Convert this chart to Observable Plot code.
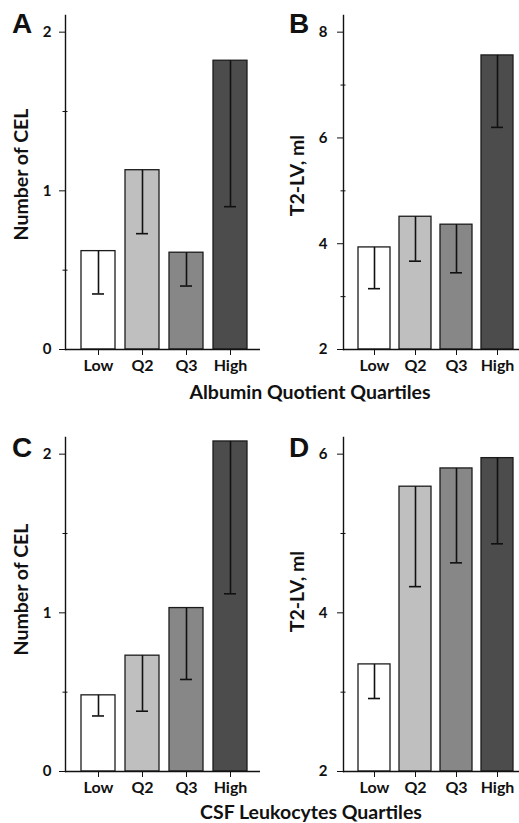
<!DOCTYPE html>
<html>
<head>
<meta charset="utf-8">
<script src="https://cdn.jsdelivr.net/npm/d3@7"></script>
<script src="https://cdn.jsdelivr.net/npm/@observablehq/plot@0.6"></script>
<style>
  html, body { margin: 0; padding: 0; background: #fff; }
  #root { position: relative; width: 519px; height: 823px; overflow: hidden; font-family: Lato, "Open Sans", sans-serif; color: #111; }
  .panel { position: absolute; }
  .letter { position: absolute; font-family: "Liberation Sans", Arial, sans-serif; font-weight: bold; font-size: 28px; line-height: 1; }
  .xtitle { position: absolute; font-family: Lato, sans-serif; font-weight: bold; font-size: 19.5px; line-height: 1; white-space: nowrap; transform: translateX(-50%); }
</style>
</head>
<body>
<div id="root"></div>
<script>
// ---- data ----
const categories = ["Low", "Q2", "Q3", "High"];
const barFills = ["#ffffff", "#bfbfbf", "#878787", "#4c4c4c"];

const celAlbumin = [0.62, 1.13, 0.61, 1.82];
const celAlbuminLower = [0.35, 0.73, 0.40, 0.90];
const t2Albumin = [3.93, 4.51, 4.36, 7.56];
const t2AlbuminLower = [3.15, 3.67, 3.45, 6.20];

const celCSF = [0.48, 0.73, 1.03, 2.08];
const celCSFLower = [0.35, 0.38, 0.58, 1.12];
const t2CSF = [3.35, 5.59, 5.82, 5.95];
const t2CSFLower = [2.92, 4.33, 4.63, 4.87];

const celTicks = [0, 1, 2];
const celMinorTicks = [0.5, 1.5];
const t2AlbuminTicks = [2, 4, 6, 8];
const t2AlbuminMinorTicks = [3, 5, 7];
const t2CSFTicks = [2, 4, 6];
const t2CSFMinorTicks = [3, 5];

const panelLetters = ["A", "B", "C", "D"];
const yTitles = ["Number of CEL", "T2-LV, ml", "Number of CEL", "T2-LV, ml"];
const xTitles = ["Albumin Quotient Quartiles", "CSF Leukocytes Quartiles"];

// ---- layout ----
const root = document.getElementById("root");

function makePanel(cfg) {
  const rows = categories.map((q, i) => ({q, v: cfg.values[i], lo: cfg.lowers[i]}));
  const base = cfg.domain[0];
  const chart = Plot.plot({
    width: cfg.width,
    height: cfg.height,
    marginLeft: cfg.mL,
    marginRight: cfg.mR,
    marginTop: cfg.mT,
    marginBottom: cfg.mB,
    style: {fontFamily: "Lato, 'Open Sans', sans-serif", fontWeight: "bold", fontSize: "15px", color: "#111", background: "transparent", overflow: "visible"},
    x: {domain: categories, paddingInner: cfg.pi, paddingOuter: cfg.po, align: cfg.align, axis: null},
    y: {domain: cfg.domain, axis: null},
    color: {domain: categories, range: barFills},
    marks: [
      Plot.barY(rows, {x: "q", y1: () => base, y2: "v", fill: "q", stroke: "#1c1c1c", strokeWidth: 1.3}),
      Plot.ruleX(rows, {x: "q", y1: "v", y2: "lo", stroke: "#111", strokeWidth: 1.6}),
      Plot.tickY(rows, {x: "q", y: "lo", stroke: "#111", strokeWidth: 1.6, insetLeft: cfg.capInset, insetRight: cfg.capInset}),
      Plot.ruleY([base], {stroke: "#111", strokeWidth: 1.4}),
      Plot.frame({anchor: "left", stroke: "#111", strokeWidth: 1.4}),
      Plot.axisX({tickSize: 6, tickPadding: 4, label: null, stroke: "#111", fontSize: 16}),
      Plot.axisY({ticks: cfg.ticks, tickSize: 6, tickPadding: cfg.tickPadding, tickFormat: d => String(d), label: null, stroke: "#111", fontSize: 15}),
      Plot.axisY({ticks: cfg.minor, tickSize: 5, dx: 2.5, tickFormat: () => "", label: null, stroke: "#111"}),
      Plot.text([cfg.ytitle], {text: d => d, frameAnchor: "left", textAnchor: "middle", dx: cfg.labelDx, dy: cfg.labelDy, rotate: -90, fontSize: 19.5, fontWeight: "bold", fill: "#111"})
    ]
  });
  const wrap = document.createElement("div");
  wrap.className = "panel";
  wrap.style.left = cfg.left + "px";
  wrap.style.top = cfg.top + "px";
  wrap.appendChild(chart);
  root.appendChild(wrap);
  return chart;
}

const leftCol = {left: 0, width: 260, mL: 65, mR: 0, pi: 0.236, po: 0.309, align: 0.545, capInset: 11, tickPadding: 8, labelDx: -44};
const rightCol = {left: 260, width: 259, mL: 83, mR: 0, pi: 0.227, po: 0.2355, align: 0.69, capInset: 10, tickPadding: 10, labelDx: -46};
const topRow = {top: 0, height: 380, mT: 15, mB: 31};
const bottomRow = {top: 420, height: 380, mT: 17, mB: 29};

makePanel({...leftCol, ...topRow, domain: [0, 2.105], ticks: celTicks, minor: celMinorTicks, values: celAlbumin, lowers: celAlbuminLower, ytitle: yTitles[0], labelDy: -8});
makePanel({...rightCol, ...topRow, domain: [2, 8.315], ticks: t2AlbuminTicks, minor: t2AlbuminMinorTicks, values: t2Albumin, lowers: t2AlbuminLower, ytitle: yTitles[1], labelDy: -7});
makePanel({...leftCol, ...bottomRow, domain: [0, 2.105], ticks: celTicks, minor: celMinorTicks, values: celCSF, lowers: celCSFLower, ytitle: yTitles[2], labelDy: -15});
makePanel({...rightCol, ...bottomRow, domain: [2, 6.21], ticks: t2CSFTicks, minor: t2CSFMinorTicks, values: t2CSF, lowers: t2CSFLower, ytitle: yTitles[3], labelDy: -13});

// panel letters
const letterPos = [[12, 10], [289, 10], [12, 434], [289, 434]];
panelLetters.forEach((t, i) => {
  const el = document.createElement("div");
  el.className = "letter";
  el.textContent = t;
  el.style.left = letterPos[i][0] + "px";
  el.style.top = letterPos[i][1] + "px";
  root.appendChild(el);
});

// x-axis titles
const xTitlePos = [[310, 382], [311, 802]];
xTitles.forEach((t, i) => {
  const el = document.createElement("div");
  el.className = "xtitle";
  el.textContent = t;
  el.style.left = xTitlePos[i][0] + "px";
  el.style.top = xTitlePos[i][1] + "px";
  root.appendChild(el);
});
</script>
</body>
</html>
